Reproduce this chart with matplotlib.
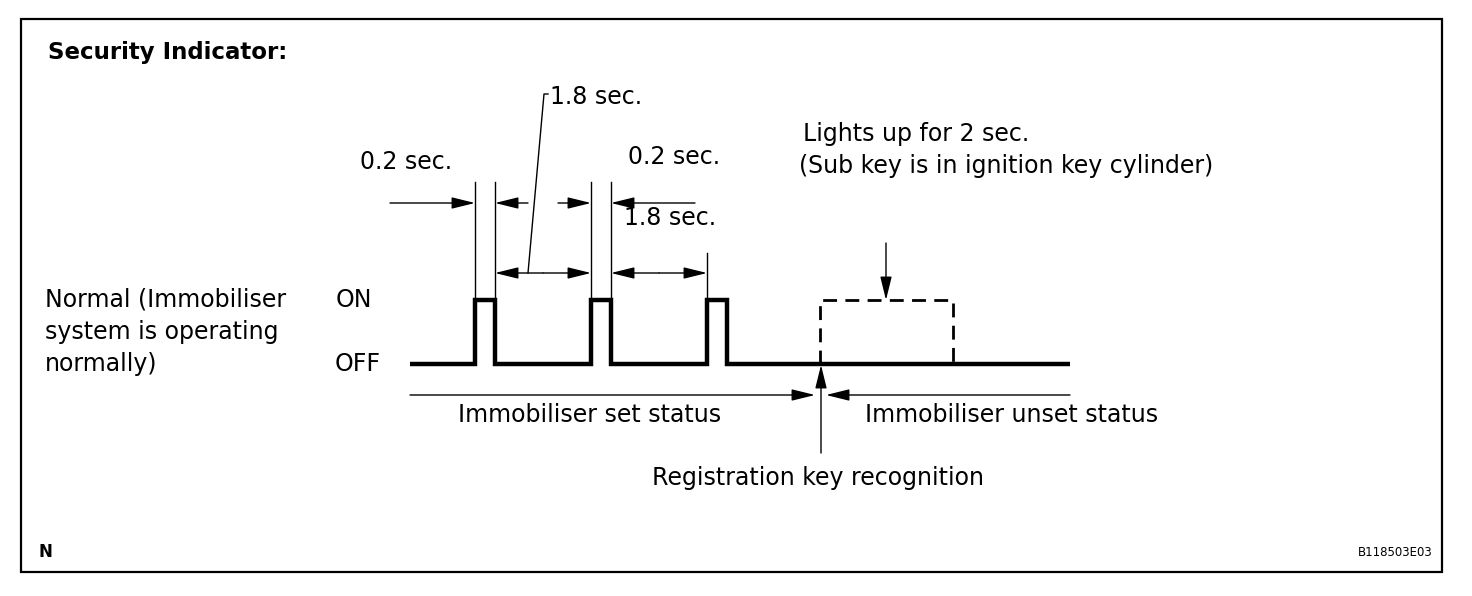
import matplotlib
matplotlib.use("Agg")
import matplotlib.pyplot as plt
from matplotlib.patches import Rectangle

plt.rcParams['font.family'] = ['DejaVu Sans']

# ---- diagram data (diagram units, x to the right, y downward) ----
level_off = 364
level_on = 300
line_start = 410
line_end = 1070
pulse_starts = [475, 591, 707]
pulse_width = 20
dashed_start = 820
dashed_end = 953
recognition_x = 821

left_labels = ["Normal (Immobiliser", "system is operating", "normally)"]
level_labels = ["ON", "OFF"]
title = "Security Indicator:"
code = "B118503E03"

W, H = 1472, 596
fig = plt.figure(figsize=(W / 100, H / 100), dpi=100)
ax = fig.add_axes([0, 0, 1, 1])
ax.set_xlim(0, W)
ax.set_ylim(H, 0)
ax.axis('off')

# border
ax.add_patch(Rectangle((21, 19), 1421, 553, fill=False, lw=1.6, ec='black'))

# waveform
xs = [line_start]
ys = [level_off]
for s in pulse_starts:
    xs += [s, s, s + pulse_width, s + pulse_width]
    ys += [level_off, level_on, level_on, level_off]
xs.append(line_end)
ys.append(level_off)
ax.plot(xs, ys, color='black', lw=3.2, solid_joinstyle='miter', solid_capstyle='butt')

# dashed pulse
ax.plot([dashed_start, dashed_start, dashed_end, dashed_end],
        [level_off, level_on, level_on, level_off],
        color='black', lw=2.0, ls=(0, (5, 3)))

thin = 1.0
def arrow(x0, y0, x1, y1):
    ax.annotate('', xy=(x1, y1), xytext=(x0, y0),
                arrowprops=dict(arrowstyle='-|>,head_length=1.3,head_width=0.32',
                                mutation_scale=11, lw=thin, color='black',
                                shrinkA=0, shrinkB=0))

def line(x0, y0, x1, y1):
    ax.plot([x0, x1], [y0, y1], color='black', lw=thin)

# extension lines
p1, p2, p3 = pulse_starts
for x in [p1, p1 + pulse_width, p2, p2 + pulse_width]:
    line(x, 182, x, level_on)
line(p3, 253, p3, level_on)

# 0.2 sec dimension arrows
y02 = 203
arrow(390, y02, p1, y02)
arrow(528, y02, p1 + pulse_width, y02)
arrow(558, y02, p2, y02)
arrow(695, y02, p2 + pulse_width, y02)

# 1.8 sec dimension arrows
y18 = 273
for a, b in [(p1 + pulse_width, p2), (p2 + pulse_width, p3)]:
    mid = (a + b) / 2
    arrow(mid, y18, a, y18)
    arrow(mid, y18, b, y18)

# leader for the upper 1.8 sec.
ax.plot([528, 544, 548], [y18, 94, 94], color='black', lw=thin)

# arrow pointing to dashed pulse
arrow((dashed_start + dashed_end) / 2 - 0.5, 243, (dashed_start + dashed_end) / 2 - 0.5, level_on)

# status arrows
ys_ = 395
arrow(line_start, ys_, recognition_x - 6, ys_)
arrow(line_end, ys_, recognition_x + 5, ys_)
arrow(recognition_x, 453, recognition_x, level_off + 1)

fs = 17
ax.text(48, 52, title, fontsize=16.5, fontweight='bold', va='center', ha='left')
ax.text(550, 97, "1.8 sec.", fontsize=fs, va='center', ha='left')
ax.text(360, 162, "0.2 sec.", fontsize=fs, va='center', ha='left')
ax.text(628, 157, "0.2 sec.", fontsize=fs, va='center', ha='left')
ax.text(624, 218, "1.8 sec.", fontsize=fs, va='center', ha='left')
ax.text(803, 134, "Lights up for 2 sec.", fontsize=fs, va='center', ha='left')
ax.text(799, 166, "(Sub key is in ignition key cylinder)", fontsize=fs, va='center', ha='left')
for i, t in enumerate(left_labels):
    ax.text(45, 300 + 32 * i, t, fontsize=fs, va='center', ha='left')
ax.text(336, level_on, level_labels[0], fontsize=fs, va='center', ha='left')
ax.text(335, level_off, level_labels[1], fontsize=fs, va='center', ha='left')
ax.text(458, 415, "Immobiliser set status", fontsize=fs, va='center', ha='left')
ax.text(865, 415, "Immobiliser unset status", fontsize=fs, va='center', ha='left')
ax.text(652, 478, "Registration key recognition", fontsize=fs, va='center', ha='left')
ax.text(39, 552, "N", fontsize=12, fontweight='bold', va='center', ha='left')
ax.text(1433, 552, code, fontsize=8.5, va='center', ha='right')

fig.savefig("out.png", dpi=100)
